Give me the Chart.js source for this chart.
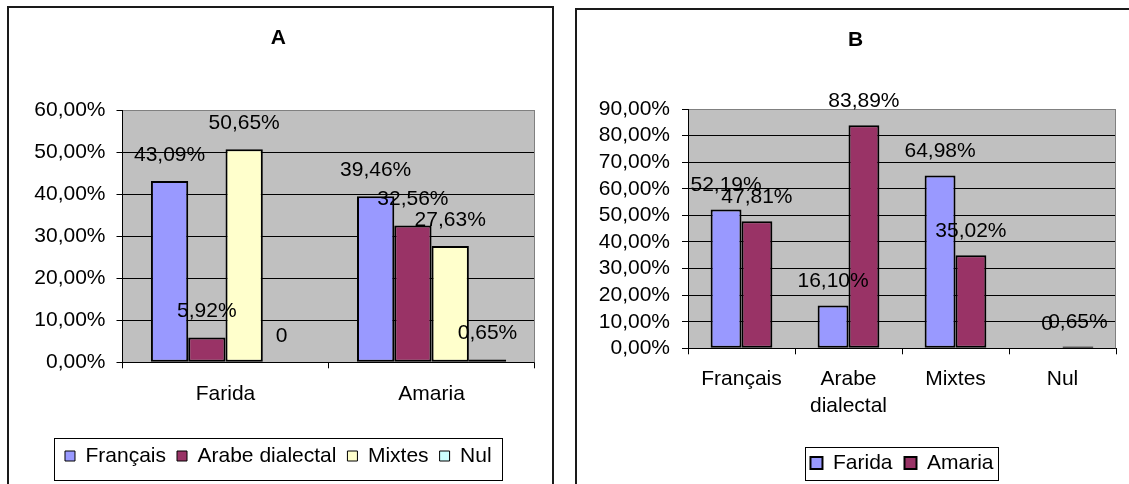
<!DOCTYPE html>
<html>
<head>
<meta charset="utf-8">
<script src="https://cdn.jsdelivr.net/npm/chart.js@4/dist/chart.umd.min.js"></script>
<style>
  html, body { margin: 0; padding: 0; background: #fff; overflow: hidden; width: 1129px; height: 484px; }
  .frame { position: absolute; box-sizing: border-box; border-color: #1a1a1a; border-style: solid; }
  #frameA { left: 7px; top: 6px; width: 547px; height: 520px; border-width: 2px 2px 0 2px; }
  #frameB { left: 575px; top: 8px; width: 600px; height: 520px; border-width: 2px 0 0 2px; }
  canvas { position: absolute; top: 0; }
  #chartA { left: 0; }
  #chartB { left: 560px; }
</style>
</head>
<body>
<div class="frame" id="frameA"></div>
<div class="frame" id="frameB"></div>
<canvas id="chartA" width="560" height="484"></canvas>
<canvas id="chartB" width="569" height="484"></canvas>
<script>
// ---- Data (chart A) ----
const titleA = 'A';
const categoriesA = ['Farida', 'Amaria'];
const seriesNamesA = ['Français', 'Arabe dialectal', 'Mixtes', 'Nul'];
const francaisA = [43.09, 39.46];
const arabeA = [5.92, 32.56];
const mixtesA = [50.65, 27.63];
const nulA = [0, 0.65];
const yTicksA = { min: 0, max: 60, step: 10 };

// ---- Data (chart B) ----
const titleB = 'B';
const categoriesB = ['Français', ['Arabe', 'dialectal'], 'Mixtes', 'Nul'];
const seriesNamesB = ['Farida', 'Amaria'];
const faridaB = [52.19, 16.10, 64.98, 0];
const amariaB = [47.81, 83.89, 35.02, 0.65];
const yTicksB = { min: 0, max: 90, step: 10 };

// ---- Styling ----
const colFrancais = '#9999FF';
const colArabe = '#993366';
const colMixtes = '#FFFFCC';
const colNul = '#CCFFFF';
const FONT = "'Liberation Sans', Arial, sans-serif";
Chart.defaults.font.family = FONT;
Chart.defaults.color = '#000';

function fmtPct(v) {
  return Number(v).toFixed(2).replace('.', ',') + '%';
}
function fmtLabel(v) {
  return v === 0 ? '0' : fmtPct(v);
}

const plotBgPlugin = {
  id: 'plotBg',
  beforeDraw(chart) {
    const a = chart.chartArea, ctx = chart.ctx;
    ctx.save();
    ctx.fillStyle = '#C0C0C0';
    ctx.fillRect(a.left, a.top, a.right - a.left, a.bottom - a.top);
    ctx.restore();
  },
  beforeDatasetsDraw(chart) {
    const a = chart.chartArea, ctx = chart.ctx;
    ctx.save();
    ctx.strokeStyle = '#808080';
    ctx.lineWidth = 1;
    const x = Math.round(a.right) - 0.5;
    ctx.beginPath();
    ctx.moveTo(x, a.top);
    ctx.lineTo(x, a.bottom);
    ctx.stroke();
    ctx.restore();
  }
};

const valueLabelPlugin = {
  id: 'valueLabels',
  afterDatasetsDraw(chart, args, opts) {
    const ctx = chart.ctx;
    ctx.save();
    ctx.font = `${opts.size || 21}px ${FONT}`;
    ctx.fillStyle = '#000';
    ctx.textAlign = 'center';
    ctx.textBaseline = 'middle';
    chart.data.datasets.forEach((ds, di) => {
      const meta = chart.getDatasetMeta(di);
      meta.data.forEach((el, i) => {
        const v = ds.data[i];
        ctx.fillText(fmtLabel(v), el.x, el.y - (opts.offset || 25));
      });
    });
    ctx.restore();
  }
};

const legendBoxPlugin = {
  id: 'legendBox',
  afterDraw(chart, args, opts) {
    const lg = chart.legend;
    if (!lg || !lg.legendHitBoxes || !lg.legendHitBoxes.length) return;
    const hb = lg.legendHitBoxes;
    const first = hb[0], last = hb[hb.length - 1];
    const x1 = first.left - opts.padX;
    const x2 = last.left + last.width + opts.padX;
    const ctx = chart.ctx;
    ctx.save();
    ctx.strokeStyle = '#000';
    ctx.lineWidth = 1;
    ctx.strokeRect(Math.round(x1) + 0.5, Math.round(opts.y1) + 0.5,
      Math.round(x2 - x1), Math.round(opts.y2 - opts.y1));
    ctx.restore();
  }
};

function legendLabels(lineWidth) {
  return (chart) => chart.data.datasets.map((ds, i) => ({
    text: ds.label,
    fillStyle: ds.backgroundColor,
    strokeStyle: '#000',
    lineWidth: lineWidth,
    hidden: false,
    datasetIndex: i
  }));
}

function yScale(t, width, pad) {
  return {
    min: t.min, max: t.max,
    afterFit(s) { s.width = width; },
    ticks: { stepSize: t.step, autoSkip: false, callback: (v) => fmtPct(v), font: { size: 21 }, padding: pad, color: '#000' },
    grid: {
      color: (c) => (c.tick && c.tick.value === t.max) ? '#808080' : '#000',
      tickColor: '#000', tickLength: 6, lineWidth: 1
    },
    border: { color: '#000', width: 1 }
  };
}
function xScale(height, pad, lh) {
  return {
    afterFit(s) { s.height = height; },
    ticks: { font: { size: 21, lineHeight: lh }, padding: pad, color: '#000', maxRotation: 0, autoSkip: false },
    grid: { drawOnChartArea: false, drawTicks: true, tickLength: 6, color: '#000', offset: true },
    border: { color: '#000', width: 1 }
  };
}

const barStyle = { borderColor: '#000', borderWidth: 2, borderSkipped: false, barPercentage: 1 };

new Chart(document.getElementById('chartA'), {
  type: 'bar',
  data: {
    labels: categoriesA,
    datasets: [
      Object.assign({ label: seriesNamesA[0], data: francaisA, backgroundColor: colFrancais, categoryPercentage: 0.724 }, barStyle),
      Object.assign({ label: seriesNamesA[1], data: arabeA, backgroundColor: colArabe, categoryPercentage: 0.724 }, barStyle),
      Object.assign({ label: seriesNamesA[2], data: mixtesA, backgroundColor: colMixtes, categoryPercentage: 0.724 }, barStyle),
      Object.assign({ label: seriesNamesA[3], data: nulA, backgroundColor: colNul, categoryPercentage: 0.724 }, barStyle)
    ]
  },
  options: {
    responsive: false,
    animation: false,
    events: [],
    layout: { padding: { left: 22, right: 25.4, top: 0, bottom: 7.5 } },
    scales: { x: xScale(72.2, 13.1, 1.2), y: yScale(yTicksA, 100.5, 11) },
    plugins: {
      title: { display: true, text: titleA, color: '#000', font: { size: 21, weight: 'bold' }, padding: { top: 25.4, bottom: 59.4 } },
      legend: {
        position: 'bottom', fullSize: true,
        labels: { boxWidth: 10, boxHeight: 10, padding: 11, font: { size: 21 }, color: '#000', generateLabels: legendLabels(1) }
      },
      tooltip: { enabled: false },
      valueLabels: { offset: 26, size: 21 },
      legendBox: { padX: 10.5, y1: 438, y2: 480 }
    }
  },
  plugins: [plotBgPlugin, valueLabelPlugin, legendBoxPlugin]
});

new Chart(document.getElementById('chartB'), {
  type: 'bar',
  data: {
    labels: categoriesB,
    datasets: [
      Object.assign({ label: seriesNamesB[0], data: faridaB, backgroundColor: colFrancais, categoryPercentage: 0.577 }, barStyle),
      Object.assign({ label: seriesNamesB[1], data: amariaB, backgroundColor: colArabe, categoryPercentage: 0.577 }, barStyle)
    ]
  },
  options: {
    responsive: false,
    animation: false,
    events: [],
    layout: { padding: { left: 35.4, right: 13, top: 0, bottom: 0.5 } },
    scales: { x: xScale(92.2, 11.65, 1.27), y: yScale(yTicksB, 92.6, 12) },
    plugins: {
      title: { display: true, text: titleB, color: '#000', font: { size: 21, weight: 'bold' }, padding: { top: 27.4, bottom: 56.4 } },
      legend: {
        position: 'bottom', fullSize: false,
        labels: { boxWidth: 12, boxHeight: 12, padding: 12, font: { size: 21 }, color: '#000', generateLabels: legendLabels(2) }
      },
      tooltip: { enabled: false },
      valueLabels: { offset: 24, size: 21 },
      legendBox: { padX: 5, y1: 446.7, y2: 480 }
    }
  },
  plugins: [plotBgPlugin, valueLabelPlugin, legendBoxPlugin]
});
</script>
</body>
</html>
